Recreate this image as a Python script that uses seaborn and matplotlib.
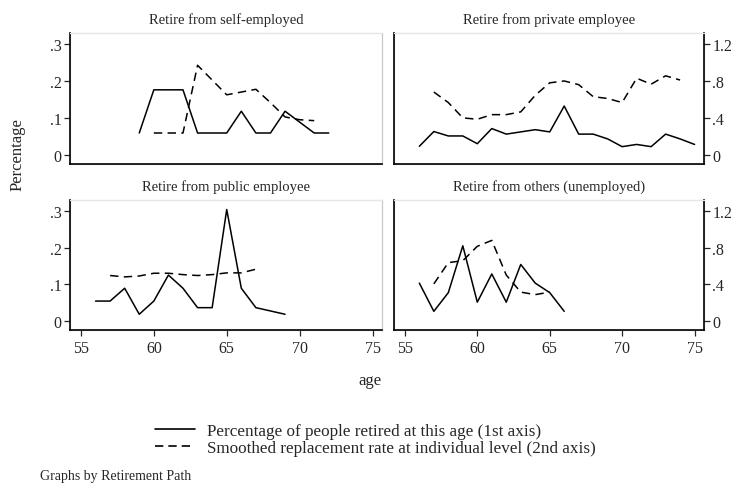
import matplotlib
matplotlib.use("Agg")
import matplotlib.pyplot as plt
import seaborn as sns
import pandas as pd
from matplotlib.lines import Line2D

# panel titles
titles = ['Retire from self-employed', 'Retire from private employee',
          'Retire from public employee', 'Retire from others (unemployed)']

# share of people retired at each age (1st axis)
self_ages = [59, 60, 61, 62, 63, 64, 65, 66, 67, 68, 69, 71, 72]
self_pct = [0.059, 0.176, 0.176, 0.176, 0.059, 0.059, 0.059, 0.118, 0.059, 0.059, 0.118, 0.059, 0.059]
priv_ages = list(range(56, 76))
priv_pct = [0.023, 0.063, 0.051, 0.051, 0.030, 0.071, 0.056, 0.062, 0.068, 0.062,
            0.132, 0.056, 0.056, 0.043, 0.022, 0.028, 0.022, 0.056, 0.043, 0.028]
pub_ages = [56, 57, 58, 59, 60, 61, 62, 63, 64, 65, 66, 67, 69]
pub_pct = [0.054, 0.054, 0.089, 0.018, 0.054, 0.125, 0.089, 0.036, 0.036, 0.304, 0.089, 0.036, 0.018]
oth_ages = [56, 57, 58, 59, 60, 61, 62, 63, 64, 65, 66]
oth_pct = [0.103, 0.026, 0.077, 0.205, 0.051, 0.128, 0.051, 0.154, 0.103, 0.077, 0.026]

# smoothed replacement rate (2nd axis)
self_rr_ages = [60, 61, 62, 63, 64, 65, 66, 67, 68, 69, 70, 71]
self_rr = [0.236, 0.236, 0.236, 0.97, 0.81, 0.65, 0.68, 0.71, 0.565, 0.41, 0.38, 0.37]
priv_rr_ages = list(range(57, 75))
priv_rr = [0.68, 0.566, 0.40, 0.385, 0.435, 0.435, 0.465, 0.645, 0.78, 0.80,
           0.76, 0.63, 0.61, 0.566, 0.83, 0.765, 0.856, 0.81]
pub_rr_ages = list(range(57, 68))
pub_rr = [0.495, 0.48, 0.49, 0.52, 0.52, 0.505, 0.495, 0.505, 0.524, 0.524, 0.564]
oth_rr_ages = list(range(57, 66))
oth_rr = [0.404, 0.636, 0.657, 0.814, 0.879, 0.50, 0.314, 0.286, 0.314]

pct_data = [(self_ages, self_pct), (priv_ages, priv_pct), (pub_ages, pub_pct), (oth_ages, oth_pct)]
rr_data = [(self_rr_ages, self_rr), (priv_rr_ages, priv_rr), (pub_rr_ages, pub_rr), (oth_rr_ages, oth_rr)]

x_ticks = [55, 60, 65, 70, 75]
y1_ticks = [0, 0.1, 0.2, 0.3]
y1_labels = ['0', '.1', '.2', '.3']
y2_ticks = [0, 0.4, 0.8, 1.2]
y2_labels = ['0', '.4', '.8', '1.2']

sns.set_style("ticks")
plt.rcParams['font.family'] = ['Liberation Serif', 'DejaVu Serif']
plt.rcParams['font.size'] = 10

fig = plt.figure(figsize=(7.35, 4.85), dpi=100)
W, H = 735, 485

# panel boxes in pixels: left, top, right, bottom
boxes = [(70, 34, 382, 165), (394, 34, 704, 165),
         (70, 201, 382, 331), (394, 201, 704, 331)]

ylim1 = (-0.025, 0.33)
dash = (0, (5.5, 3.5))
tick_fs = 11.5

for i, (l, t, r, b) in enumerate(boxes):
    ax = fig.add_axes([l / W, 1 - b / H, (r - l) / W, (b - t) / H])
    ax2 = ax.twinx()
    ages, pct = pct_data[i]
    rages, rr = rr_data[i]
    df1 = pd.DataFrame({'age': ages, 'pct': pct})
    df2 = pd.DataFrame({'age': rages, 'rr': rr})
    sns.lineplot(data=df1, x='age', y='pct', ax=ax, color='black', linewidth=1.1)
    sns.lineplot(data=df2, x='age', y='rr', ax=ax2, color='black', linewidth=1.1, linestyle=dash)

    ax.set_xlim(54.25, 75.65)
    ax.set_ylim(*ylim1)
    ax2.set_ylim(ylim1[0] * 4, ylim1[1] * 4)
    ax.set_xlabel('')
    ax.set_ylabel('')
    ax2.set_ylabel('')
    ax.set_title(titles[i], fontsize=10.5, pad=7)

    left_col = i % 2 == 0
    bottom_row = i >= 2

    for a in (ax, ax2):
        for s in a.spines.values():
            s.set_visible(True)
            s.set_color('#c8c8c8')
            s.set_linewidth(0.8)
    ax2.spines['top'].set_color('#e6e6e6')
    ax2.spines['bottom'].set_color('black')
    ax2.spines['bottom'].set_linewidth(1.2)
    ax2.spines['left'].set_color('black')
    ax2.spines['left'].set_linewidth(1.2)
    if not left_col:
        ax2.spines['right'].set_color('black')
        ax2.spines['right'].set_linewidth(1.2)

    if left_col:
        ax.set_yticks(y1_ticks)
        ax.set_yticklabels(y1_labels)
        ax.tick_params(axis='y', left=True, length=4, width=0.9, labelsize=tick_fs, pad=2)
    else:
        ax.set_yticks([])
    if not left_col:
        ax2.set_yticks(y2_ticks)
        ax2.set_yticklabels(y2_labels)
        ax2.tick_params(axis='y', right=True, length=4, width=0.9, labelsize=tick_fs, pad=2)
    else:
        ax2.set_yticks([])

    if bottom_row:
        ax.set_xticks(x_ticks)
        ax.tick_params(axis='x', bottom=True, length=4, width=0.9, labelsize=tick_fs, pad=3)
    else:
        ax.set_xticks([])

fig.text(18 / W, 1 - 155 / H, 'Percentage', rotation=90, ha='center', va='center', fontsize=12)
fig.text(370 / W, 1 - 381 / H, 'age', ha='center', va='center', fontsize=12)
fig.text(40 / W, 1 - 477 / H, 'Graphs by Retirement Path', ha='left', va='center', fontsize=10)

handles = [Line2D([], [], color='black', linewidth=1.2),
           Line2D([], [], color='black', linewidth=1.2, linestyle=(0, (5, 3)))]
labels = ['Percentage of people retired at this age (1st axis)',
          'Smoothed replacement rate at individual level (2nd axis)']
fig.legend(handles, labels, loc='upper left', bbox_to_anchor=(155 / W, 1 - 424 / H),
           frameon=False, fontsize=12.3, handlelength=2.35, handletextpad=0.7,
           labelspacing=0.08, borderpad=0, borderaxespad=0)

fig.savefig('out.png', dpi=100)
